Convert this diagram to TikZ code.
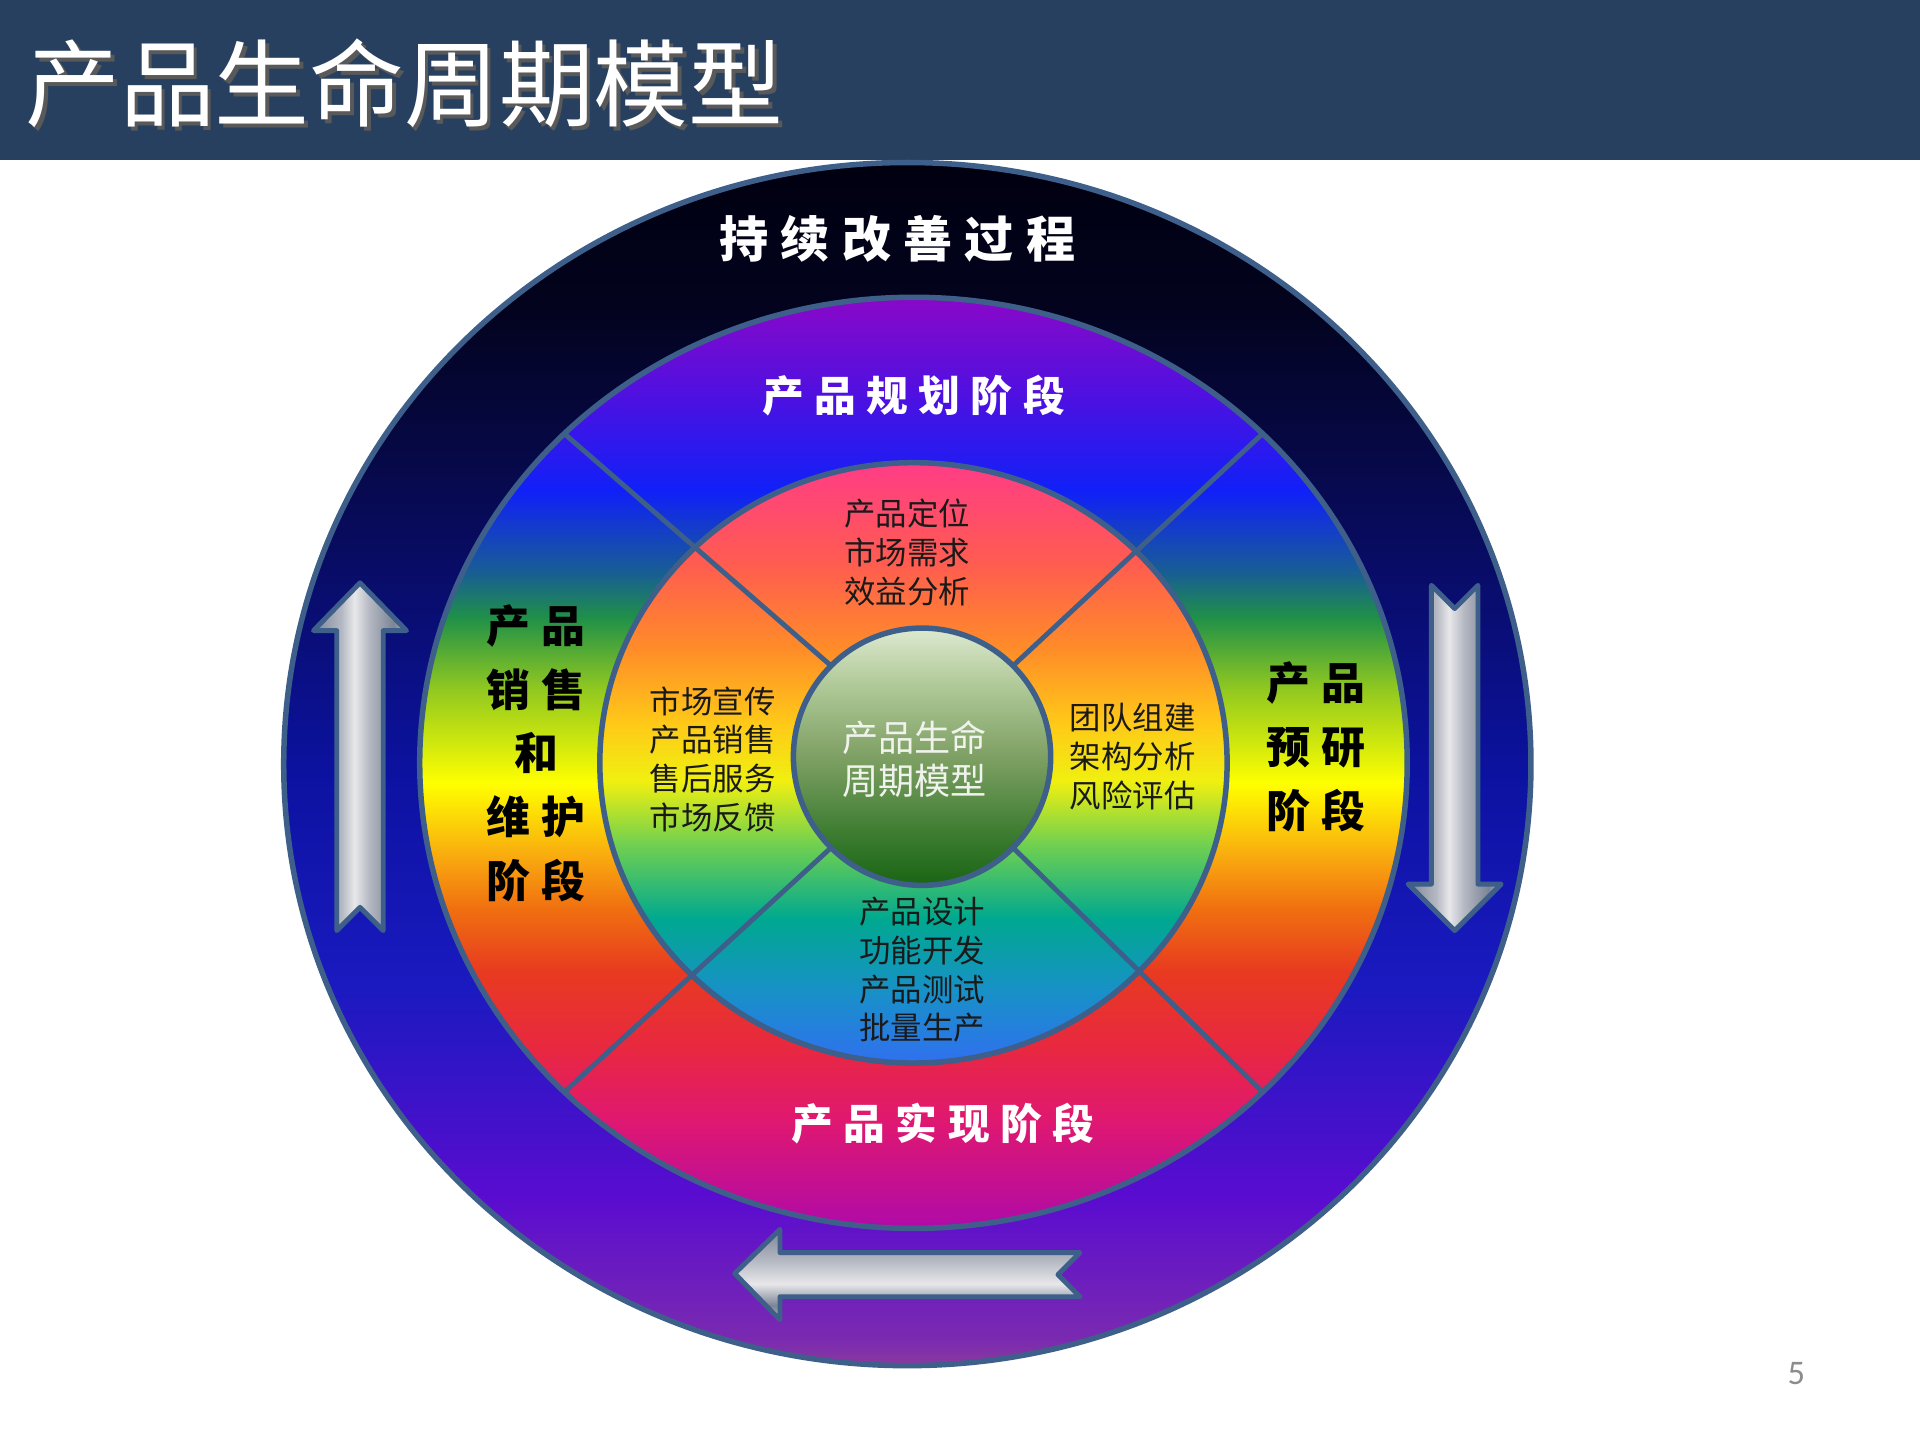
\documentclass[tikz,border=0pt]{standalone}
\usepackage{fontspec}
\setsansfont{Carlito}
\newfontfamily\cjk{Noto Sans CJK SC}
\newfontfamily\cjkwide[LetterSpace=25]{Noto Sans CJK SC}
\usetikzlibrary{calc}

\definecolor{barBlue}{RGB}{40,64,96}
\definecolor{rimBlue}{RGB}{61,95,138}
\definecolor{textDark}{RGB}{26,26,26}
\definecolor{coreText}{RGB}{240,242,236}
% outer ring
\definecolor{oA}{HTML}{8A3A9E}
\definecolor{oB}{HTML}{7A2AB0}
\definecolor{oC}{HTML}{5A0CD0}
\definecolor{oD}{HTML}{1A1AC0}
\definecolor{oE}{HTML}{0C12A0}
\definecolor{oF}{HTML}{070A50}
\definecolor{oG}{HTML}{03031E}
\definecolor{oH}{HTML}{000010}
% middle ring
\definecolor{mA}{HTML}{B00AA8}
\definecolor{mB}{HTML}{E01870}
\definecolor{mC}{HTML}{E82840}
\definecolor{mD}{HTML}{E83A20}
\definecolor{mE}{HTML}{F07010}
\definecolor{mF}{HTML}{F8A010}
\definecolor{mG}{HTML}{FFFF00}
\definecolor{mH}{HTML}{90C820}
\definecolor{mI}{HTML}{209048}
\definecolor{mJ}{HTML}{186090}
\definecolor{mK}{HTML}{1020F8}
\definecolor{mL}{HTML}{5010E0}
\definecolor{mM}{HTML}{8A08C8}
% inner ring
\definecolor{iA}{HTML}{3070F0}
\definecolor{iB}{HTML}{1890C8}
\definecolor{iC}{HTML}{00A890}
\definecolor{iD}{HTML}{70D050}
\definecolor{iE}{HTML}{F0F010}
\definecolor{iF}{HTML}{FFC818}
\definecolor{iG}{HTML}{FF8C28}
\definecolor{iH}{HTML}{FF5C50}
\definecolor{iI}{HTML}{FF3C86}
% core and arrows
\definecolor{cA}{HTML}{1A6414}
\definecolor{cB}{HTML}{3C7C30}
\definecolor{cC}{HTML}{7EA064}
\definecolor{cD}{HTML}{B4CC9C}
\definecolor{cE}{HTML}{DDE9D0}
\definecolor{sDark}{HTML}{7C8496}
\definecolor{sMid}{HTML}{B4B8C2}
\definecolor{sLight}{HTML}{E8E8EA}

\pgfdeclareverticalshading{outerRing}{100bp}{color(0bp)=(oA); color(25bp)=(oA);
  color(26.1bp)=(oB); color(32bp)=(oC); color(40.8bp)=(oD); color(49.6bp)=(oE);
  color(61.4bp)=(oF); color(69bp)=(oG); color(75bp)=(oH); color(100bp)=(oH)}
\pgfdeclareverticalshading{midRing}{100bp}{color(0bp)=(mA); color(25bp)=(mA);
  color(30.9bp)=(mB); color(34.7bp)=(mC); color(38.8bp)=(mD); color(42.2bp)=(mE);
  color(44.5bp)=(mF); color(48.9bp)=(mG); color(54bp)=(mH); color(57.8bp)=(mI);
  color(60.1bp)=(mJ); color(64.6bp)=(mK); color(69.9bp)=(mL); color(75bp)=(mM);
  color(100bp)=(mM)}
\pgfdeclareverticalshading{innerRing}{100bp}{color(0bp)=(iA); color(25bp)=(iA);
  color(30.9bp)=(iB); color(37bp)=(iC); color(43.2bp)=(iD); color(48.5bp)=(iE);
  color(53.4bp)=(iF); color(59.5bp)=(iG); color(66.6bp)=(iH); color(75bp)=(iI);
  color(100bp)=(iI)}
\pgfdeclareverticalshading{coreBall}{100bp}{color(0bp)=(cA); color(25bp)=(cA);
  color(35bp)=(cB); color(50bp)=(cC); color(65bp)=(cD); color(75bp)=(cE);
  color(100bp)=(cE)}
\pgfdeclarehorizontalshading{metalH}{100bp}{color(0bp)=(sDark); color(25bp)=(sDark);
  color(40bp)=(sMid); color(47bp)=(sLight); color(55bp)=(sMid); color(68bp)=(sDark);
  color(75bp)=(sMid); color(100bp)=(sMid)}
\pgfdeclareverticalshading{metalV}{100bp}{color(0bp)=(sMid); color(25bp)=(sMid);
  color(33bp)=(sDark); color(45bp)=(sLight); color(58bp)=(sMid); color(75bp)=(sDark);
  color(100bp)=(sDark)}

\tikzset{
  ringline/.style={draw=rimBlue,line width=0.045cm},
  divider/.style={draw=rimBlue,line width=0.04cm},
  metalup/.style={shade,shading=metalH,draw=rimBlue,line width=0.04cm,line join=round},
  metalside/.style={shade,shading=metalV,draw=rimBlue,line width=0.04cm,line join=round},
  titletxt/.style={anchor=west,inner sep=0pt,text=white,font=\cjk\fontsize{22}{26}\selectfont},
  outerlbl/.style={inner sep=0pt,text=white,font=\cjkwide\bfseries\fontsize{11.4}{14}\selectfont},
  phaselbl/.style={inner sep=0pt,text=white,font=\cjkwide\bfseries\fontsize{9.7}{12}\selectfont},
  sidelbl/.style={inner sep=0pt,align=center,text=black,font=\cjkwide\bfseries\fontsize{10.2}{14.8}\selectfont},
  tasklbl/.style={inner sep=0pt,align=center,text=textDark,font=\cjk\fontsize{7.3}{9}\selectfont},
  corelbl/.style={inner sep=0pt,align=center,text=coreText,font=\cjk\fontsize{8.4}{10}\selectfont},
}

\begin{document}
\begin{tikzpicture}[x=0.01cm,y=-0.01cm]
  \useasboundingbox (0,0) rectangle (1568,1176);
  % header
  \fill[barBlue] (0,0) rectangle (1568,130.6);
  \node[titletxt,text=black!65] (titleshadow) at (23,71.5) {产品生命周期模型};
  \node[titletxt] (title) at (20,68) {产品生命周期模型};

  % rings
  \coordinate (c) at (746,623);
  \coordinate (cc) at (753,618);
  \shade[shading=outerRing,ringline] (741,624) ellipse [x radius=5.09cm,y radius=4.91cm];
  \shade[shading=midRing,ringline] (c) ellipse [x radius=4.03cm,y radius=3.80cm];
  \shade[shading=innerRing,ringline] (c) ellipse [x radius=2.56cm,y radius=2.45cm];
  \foreach \a in {45,135,225,315}
    \draw[divider] ($(c)+(\a:403 and 380)$) -- ($(cc)+(\a:105)$);
  \shade[shading=coreBall,ringline] (cc) circle [radius=1.05cm];

  % arrows
  \path[metalup] (294,476) -- (332,515) -- (313,515) -- (313,760) -- (294,741)
    -- (275,760) -- (275,515) -- (256,515) -- cycle;
  \path[metalup] (1169,478) -- (1188,497) -- (1207,478) -- (1207,722) -- (1226,722)
    -- (1188,760) -- (1150,722) -- (1169,722) -- cycle;
  \path[metalside] (600,1040) -- (637,1004) -- (637,1023) -- (882,1023) -- (864,1041)
    -- (882,1059) -- (637,1059) -- (637,1078) -- cycle;

  % labels
  \node[outerlbl] (improve) at (733,195) {持续改善过程};
  \node[phaselbl] (plan) at (746,323) {产品规划阶段};
  \node[phaselbl] (realize) at (770,918) {产品实现阶段};
  \node[sidelbl] (sale) at (438,615) {产品\\销售\\和\\维护\\阶段};
  \node[sidelbl] (research) at (1075,610) {产品\\预研\\阶段};
  \node[tasklbl] (tplan) at (741,451) {产品定位\\市场需求\\效益分析};
  \node[tasklbl] (tsale) at (582,620) {市场宣传\\产品销售\\售后服务\\市场反馈};
  \node[tasklbl] (tresearch) at (925,618) {团队组建\\架构分析\\风险评估};
  \node[tasklbl] (trealize) at (753,792) {产品设计\\功能开发\\产品测试\\批量生产};
  \node[corelbl] (core) at (747,620) {产品生命\\周期模型};
  \node[font=\sffamily\fontsize{8}{10}\selectfont,text=black!45] (pageno) at (1467,1122) {5};
\end{tikzpicture}
\end{document}
